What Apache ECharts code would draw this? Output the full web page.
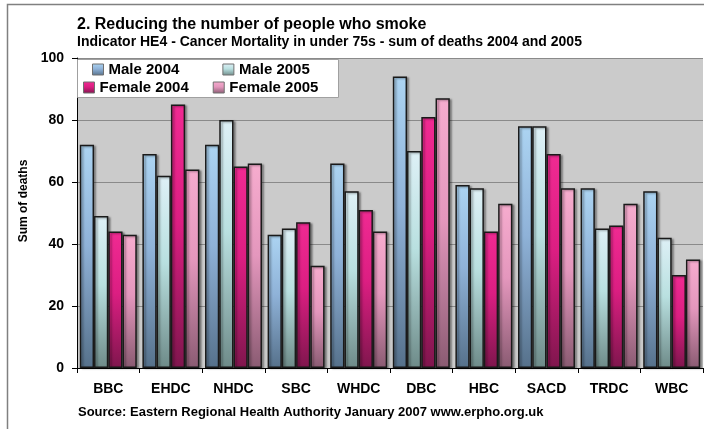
<!DOCTYPE html>
<html>
<head>
<meta charset="utf-8">
<script src="https://cdn.jsdelivr.net/npm/echarts@6/dist/echarts.min.js"></script>
<style>
  html, body { margin: 0; padding: 0; background: #fff; }
  #chart { width: 704px; height: 429px; }
</style>
</head>
<body>
<div id="chart"></div>
<script>
  // district codes
  const categories = ['BBC', 'EHDC', 'NHDC', 'SBC', 'WHDC', 'DBC', 'HBC', 'SACD', 'TRDC', 'WBC']
  // sum of deaths per group
  const male2004 = [72, 69, 72, 43, 66, 94, 59, 78, 58, 57]
  const male2005 = [49, 62, 80, 45, 57, 70, 58, 78, 45, 42]
  const female2004 = [44, 85, 65, 47, 51, 81, 44, 69, 46, 30]
  const female2005 = [43, 64, 66, 33, 44, 87, 53, 58, 53, 35]
  const yTicks = [0, 20, 40, 60, 80, 100]

  const font = "'Liberation Sans', Arial, sans-serif"

  function grad(top, mid, bottom) {
    return new echarts.graphic.LinearGradient(0, 0, 0, 1, [
      { offset: 0, color: top },
      { offset: 0.45, color: mid },
      { offset: 1, color: bottom }
    ])
  }

  const seriesDefs = [
    { name: 'Male 2004', data: male2004, color: grad('#acd4f2', '#8fb2d8', '#56718b') },
    { name: 'Male 2005', data: male2005, color: grad('#def0f6', '#b9e0e0', '#6e8b89') },
    { name: 'Female 2004', data: female2004, color: grad('#f02a92', '#dc1e82', '#7f164d') },
    { name: 'Female 2005', data: female2005, color: grad('#f6acce', '#e497bd', '#8a5b72') }
  ]

  const legendText = { fontSize: 15, fontWeight: 'bold', color: '#000', fontFamily: font }

  const chart = echarts.init(document.getElementById('chart'))
  const option = {
    animation: false,
    backgroundColor: '#fff',
    textStyle: { fontFamily: font },
    title: [
      {
        text: '2. Reducing the number of people who smoke',
        left: 77, top: 17, padding: 0,
        textStyle: { fontSize: 16, fontWeight: 'bold', color: '#000', fontFamily: font }
      },
      {
        text: 'Indicator HE4 - Cancer Mortality in under 75s - sum of deaths 2004 and 2005',
        left: 77, top: 35, padding: 0,
        textStyle: { fontSize: 14, fontWeight: 'bold', color: '#000', fontFamily: font }
      },
      {
        text: 'Source: Eastern Regional Health Authority January 2007 www.erpho.org.uk',
        left: 78, top: 406, padding: 0,
        textStyle: { fontSize: 13, fontWeight: 'bold', color: '#000', fontFamily: font }
      }
    ],
    graphic: [
      {
        type: 'rect', z: 0,
        shape: { x: 7.5, y: 4.5, width: 720, height: 440 },
        style: { fill: 'none', stroke: '#808080', lineWidth: 1.5 }
      },
      {
        type: 'rect', z: 3,
        shape: { x: 77.5, y: 59.5, width: 261, height: 38 },
        style: { fill: '#fff', stroke: '#a0a0a0', lineWidth: 1 }
      }
    ],
    legend: [
      {
        data: ['Male 2004', 'Male 2005'],
        left: 92, top: 62, z: 5, padding: 0,
        itemWidth: 11, itemHeight: 11, itemGap: 43,
        icon: 'rect',
        itemStyle: { borderColor: '#707070', borderWidth: 1 },
        textStyle: legendText
      },
      {
        data: ['Female 2004', 'Female 2005'],
        left: 83, top: 80, z: 5, padding: 0,
        itemWidth: 11, itemHeight: 11, itemGap: 24,
        icon: 'rect',
        itemStyle: { borderColor: '#707070', borderWidth: 1 },
        textStyle: legendText
      }
    ],
    grid: {
      left: 77, right: 1, top: 58, bottom: 61,
      show: true, backgroundColor: '#cbcbcb', borderWidth: 0
    },
    xAxis: {
      type: 'category',
      data: categories,
      axisLine: { lineStyle: { color: '#000', width: 1 } },
      axisTick: { show: true, length: 5, lineStyle: { color: '#000' } },
      axisLabel: { fontSize: 14, fontWeight: 'bold', color: '#000', margin: 14, fontFamily: font }
    },
    yAxis: {
      type: 'value',
      min: yTicks[0], max: yTicks[yTicks.length - 1], interval: 20,
      name: 'Sum of deaths',
      nameLocation: 'middle',
      nameGap: 43,
      nameTextStyle: { fontSize: 12, fontWeight: 'bold', color: '#000', fontFamily: font, padding: [0, 0, 0, 24] },
      axisLine: { show: true, lineStyle: { color: '#000', width: 1 } },
      axisTick: { show: true, length: 5, lineStyle: { color: '#000' } },
      axisLabel: { fontSize: 14, fontWeight: 'bold', color: '#000', margin: 13, fontFamily: font },
      splitLine: { lineStyle: { color: '#8a8a8a', width: 1 } }
    },
    series: seriesDefs.map(s => ({
      name: s.name,
      type: 'bar',
      data: s.data,
      barGap: '0%',
      barCategoryGap: '9%',
      itemStyle: {
        color: s.color,
        borderColor: '#1a1a1a',
        borderWidth: 1.5,
        shadowColor: 'rgba(0,0,0,0.35)',
        shadowBlur: 2,
        shadowOffsetX: 2,
        shadowOffsetY: 1
      }
    }))
  }
  chart.setOption(option)
</script>
</body>
</html>
